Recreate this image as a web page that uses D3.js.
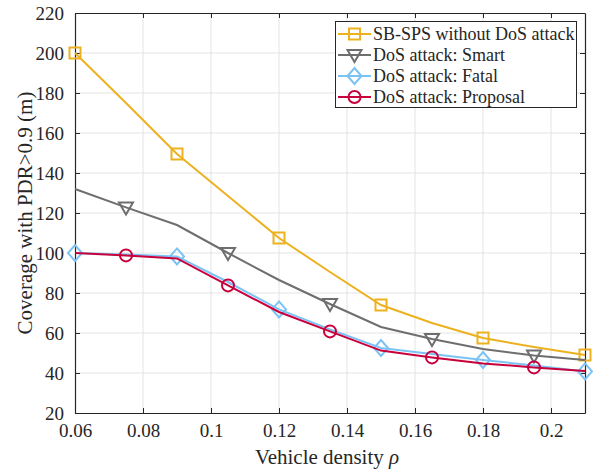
<!DOCTYPE html>
<html>
<head>
<meta charset="utf-8">
<script src="https://cdn.jsdelivr.net/npm/d3@7"></script>
<style>
  body { margin: 0; background: #fff; }
  svg { display: block; }
  text { font-family: 'Liberation Serif', serif; fill: #262626; }
</style>
</head>
<body>
<svg id="chart" width="593" height="473"></svg>
<script>
const rho = [0.06, 0.075, 0.09, 0.105, 0.12, 0.135, 0.15, 0.165, 0.18, 0.195, 0.21];
const sbsps    = [200, 175, 149.5, 128.5, 107.5, 90.5, 74, 65, 57.5, 53, 49];
const smart    = [132, 122.8, 114, 100, 86.5, 74.5, 63, 57, 52, 48.8, 46.5];
const fatal    = [100, 99.2, 98.3, 85.5, 71.8, 61.8, 52.5, 49.5, 46.5, 43.8, 40.8];
const proposal = [100, 98.8, 97.3, 83.8, 70.5, 60.8, 51.2, 47.8, 44.8, 42.8, 41];
const xTicks = [0.06, 0.08, 0.1, 0.12, 0.14, 0.16, 0.18, 0.2];
const yTicks = [20, 40, 60, 80, 100, 120, 140, 160, 180, 200, 220];
const seriesNames = ["SB-SPS without DoS attack", "DoS attack: Smart", "DoS attack: Fatal", "DoS attack: Proposal"];
const seriesColors = ["#EDB120", "#6E6E6E", "#7CC3F5", "#C8003C"];
const seriesMarkers = ["square", "triangle", "diamond", "circle"];
const markerStart = [0, 1, 0, 1]; // index of first marker, every 2nd point

const FONT = "Liberation Serif";
const svg = d3.select("#chart");
const m = {left: 75, top: 13, right: 585, bottom: 413};
const x = d3.scaleLinear().domain([0.06, 0.21]).range([m.left, m.right]);
const y = d3.scaleLinear().domain([20, 220]).range([m.bottom, m.top]);

// grid
const g = svg.append("g");
g.selectAll(".vg").data(xTicks.slice(1)).join("line")
  .attr("x1", d => x(d)).attr("x2", d => x(d)).attr("y1", m.top).attr("y2", m.bottom)
  .attr("stroke", "#e3e3e3").attr("stroke-width", 1);
g.selectAll(".hg").data(yTicks.slice(1, -1)).join("line")
  .attr("x1", m.left).attr("x2", m.right).attr("y1", d => y(d)).attr("y2", d => y(d))
  .attr("stroke", "#e3e3e3").attr("stroke-width", 1);

// axes
const fmtX = d => String(+d.toFixed(2));
const axB = d3.axisBottom(x).tickValues(xTicks).tickSizeInner(-5).tickSizeOuter(0).tickPadding(11).tickFormat(fmtX);
const axT = d3.axisTop(x).tickValues(xTicks).tickSizeInner(-5).tickSizeOuter(0).tickFormat("");
const axL = d3.axisLeft(y).tickValues(yTicks).tickSizeInner(-5).tickSizeOuter(0).tickPadding(11);
const axR = d3.axisRight(y).tickValues(yTicks).tickSizeInner(-5).tickSizeOuter(0).tickFormat("");
function styleAx(sel) {
  sel.attr("font-family", FONT);
  sel.selectAll("path").attr("stroke", "#262626").attr("stroke-width", 1.2);
  sel.selectAll("line").attr("stroke", "#262626").attr("stroke-width", 1);
  sel.selectAll("text").attr("font-family", FONT).style("font-size", "19px").attr("fill", "#262626");
}
svg.append("g").attr("transform", `translate(0,${m.bottom})`).call(axB).call(styleAx);
svg.append("g").attr("transform", `translate(0,${m.top})`).call(axT).call(styleAx);
svg.append("g").attr("transform", `translate(${m.left},0)`).call(axL).call(styleAx);
svg.append("g").attr("transform", `translate(${m.right},0)`).call(axR).call(styleAx);

// lines
const allSeries = [sbsps, smart, fatal, proposal];
const line = d3.line().x((d, i) => x(rho[i])).y(d => y(d));
function drawMarker(sel, type, color, cx, cy) {
  const gg = sel.append("g").attr("transform", `translate(${cx},${cy})`);
  let el;
  if (type === "square") el = gg.append("rect").attr("x", -5.5).attr("y", -5.5).attr("width", 11).attr("height", 11);
  else if (type === "circle") el = gg.append("circle").attr("r", 6);
  else if (type === "diamond") el = gg.append("path").attr("d", "M0,-8L7,0L0,8L-7,0Z");
  else el = gg.append("path").attr("d", "M-7,-5L7,-5L0,7Z");
  el.attr("fill", "none").attr("stroke", color).attr("stroke-width", 2);
}
allSeries.forEach((s, k) => {
  svg.append("path").datum(s).attr("d", line).attr("fill", "none")
    .attr("stroke", seriesColors[k]).attr("stroke-width", 2);
  s.forEach((v, i) => {
    if (i >= markerStart[k] && (i - markerStart[k]) % 2 === 0)
      drawMarker(svg, seriesMarkers[k], seriesColors[k], x(rho[i]), y(v));
  });
});

// legend
const lg = svg.append("g");
lg.append("rect").attr("x", 335.5).attr("y", 21.5).attr("width", 241).attr("height", 86)
  .attr("fill", "#fff").attr("stroke", "#262626").attr("stroke-width", 1);
seriesNames.forEach((name, k) => {
  const ly = 34 + k * 21;
  lg.append("line").attr("x1", 338).attr("x2", 371).attr("y1", ly).attr("y2", ly)
    .attr("stroke", seriesColors[k]).attr("stroke-width", 2);
  drawMarker(lg, seriesMarkers[k], seriesColors[k], 354.5, ly);
  lg.append("text").attr("x", 373).attr("y", ly + 6).attr("font-family", FONT)
    .style("font-size", "18px").text(name);
});

// axis titles
svg.append("text").attr("x", (m.left + m.right) / 2 - 3).attr("y", 464).attr("font-family", FONT)
  .attr("text-anchor", "middle").style("font-size", "21px")
  .html('Vehicle density <tspan font-style="italic">ρ</tspan>');
svg.append("text").attr("transform", `translate(32,${(m.top + m.bottom) / 2}) rotate(-90)`)
  .attr("font-family", FONT)
  .attr("text-anchor", "middle").style("font-size", "21px")
  .text("Coverage with PDR>0.9 (m)");
</script>
</body>
</html>
